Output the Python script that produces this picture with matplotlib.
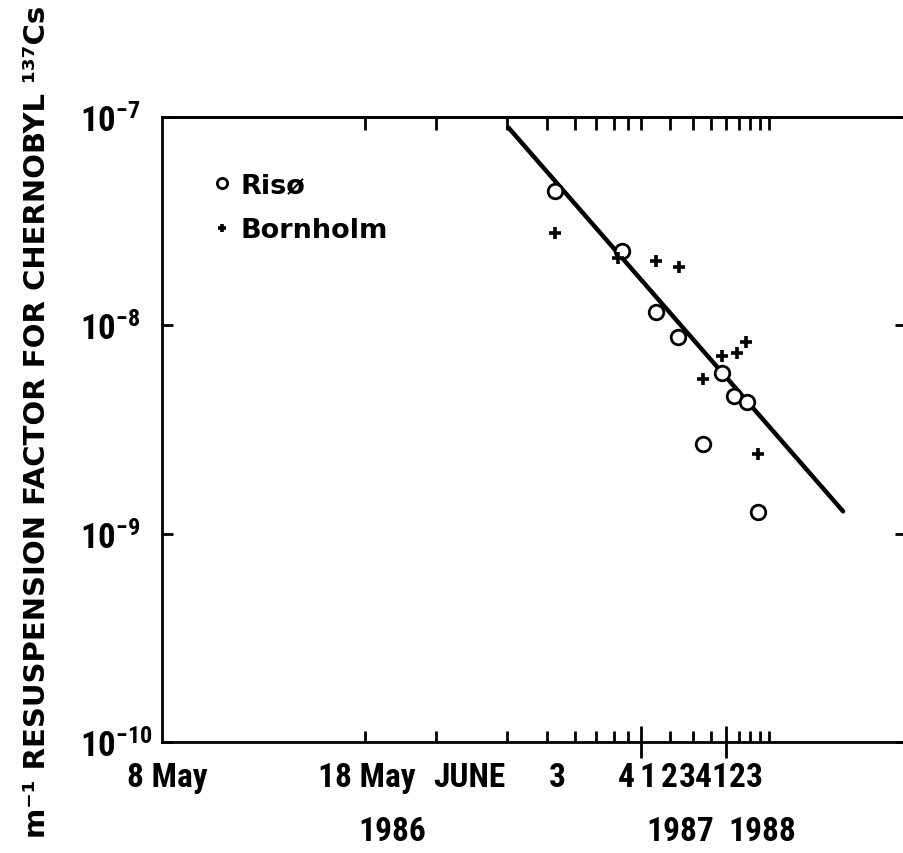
import numpy as np
import matplotlib
matplotlib.use("Agg")
import matplotlib.pyplot as plt
from matplotlib.ticker import NullLocator
from matplotlib.transforms import blended_transform_factory

plt.rcParams["font.family"] = ["Roboto Condensed", "Liberation Sans", "DejaVu Sans"]
plt.rcParams["font.weight"] = "bold"

# time axis is days after 6 May 1986 (log scale)
T0 = np.datetime64("1986-05-06")


def days(*dates):
    return (np.array(dates, dtype="datetime64[D]") - T0).astype(float)


riso_days = [95, 195, 283, 361, 470, 582, 662, 758, 860]
riso_factor = [4.4e-8, 2.28e-8, 1.16e-8, 8.8e-9, 2.7e-9, 5.9e-9, 4.6e-9, 4.3e-9, 1.27e-9]

bornholm_days = [95, 188, 283, 365, 474, 582, 686, 752, 854]
bornholm_factor = [2.77e-8, 2.1e-8, 2.04e-8, 1.9e-8, 5.5e-9, 7.1e-9, 7.4e-9, 8.3e-9, 2.4e-9]

fit_days = [57, 2160]
fit_factor = [8.9e-8, 1.28e-9]

month_ticks = days("1986-05-18", "1986-06-01", "1986-07-01", "1986-08-01",
                   "1986-09-01", "1986-10-01", "1986-11-01", "1986-12-01",
                   "1987-04-01", "1987-07-01", "1987-10-01",
                   "1988-04-01", "1988-07-01", "1988-10-01", "1989-01-01")
year_ticks = days("1987-01-01", "1988-01-01")

date_labels = ["8 May", "18 May", "JUNE", "3", "4", "1", "2", "3", "4", "1", "2", "3"]
date_label_days = [1.41, 12.3, 37.4, 97, 204, 259, 326, 396, 471, 568, 683, 821]
year_labels = ["1986", "1987", "1988"]
year_label_days = [16.2, 367, 895]

y_ticks = [1e-10, 1e-9, 1e-8, 1e-7]
y_labels = [r"$\mathregular{10^{-10}}$", r"$\mathregular{10^{-9}}$",
            r"$\mathregular{10^{-8}}$", r"$\mathregular{10^{-7}}$"]

fig = plt.figure(figsize=(9.04, 8.54), dpi=100)
ax = fig.add_axes([162 / 904, 111 / 854, 744 / 904, 625 / 854])
ax.set_xscale("log")
ax.set_yscale("log")
ax.set_xlim(1.324, 4277)
ax.set_ylim(1e-10, 1e-7)

for side in ax.spines.values():
    side.set_linewidth(2)

ax.plot(fit_days, fit_factor, color="black", lw=3.2, solid_capstyle="round", zorder=2)
ax.plot(riso_days, riso_factor, ls="none", marker="o", ms=10.5, mew=2,
        mec="black", mfc="white", zorder=3, label="Risø")
ax.plot(bornholm_days, bornholm_factor, ls="none", marker="+", ms=9, mew=2.6,
        color="black", zorder=3, label="Bornholm")

# bottom: month/quarter ticks inside, year boundaries crossing the axis
ax.set_xticks(year_ticks, labels=[])
ax.set_xticks(month_ticks, labels=[], minor=True)
ax.tick_params(axis="x", which="major", direction="inout", length=23, width=2)
ax.tick_params(axis="x", which="minor", direction="in", length=8, width=2)

top = ax.secondary_xaxis("top")
top.set_xticks(np.sort(np.concatenate([month_ticks, year_ticks])), labels=[])
top.xaxis.set_minor_locator(NullLocator())
top.tick_params(direction="in", length=9, width=2)
top.spines["top"].set_linewidth(2)

ax.set_yticks(y_ticks, labels=y_labels)
ax.yaxis.set_minor_locator(NullLocator())
ax.tick_params(axis="y", direction="in", length=8, width=2, right=True,
               labelsize=25, pad=59)
for lab in ax.get_yticklabels():
    lab.set_horizontalalignment("left")

trans = blended_transform_factory(ax.transData, ax.transAxes)
for d, s in zip(date_label_days, date_labels):
    ax.text(d, -0.056, s, transform=trans, ha="center", va="center", fontsize=24)
for d, s in zip(year_label_days, year_labels):
    ax.text(d, -0.142, s, transform=trans, ha="center", va="center", fontsize=24)

fig.text(37 / 904, 1 - 422 / 854, "m⁻¹ RESUSPENSION FACTOR FOR CHERNOBYL ¹³⁷Cs",
         rotation=90, ha="center", va="center", fontsize=21,
         family="DejaVu Sans", weight="bold")

ax.legend(loc="upper left", bbox_to_anchor=(0.0694, 0.912), frameon=False,
          borderpad=0, borderaxespad=0, handlelength=0.6, handletextpad=0.4,
          labelspacing=0.72, markerscale=0.7,
          prop={"family": "DejaVu Sans", "weight": "bold", "size": 19.5})

fig.savefig("out.png", dpi=100)
